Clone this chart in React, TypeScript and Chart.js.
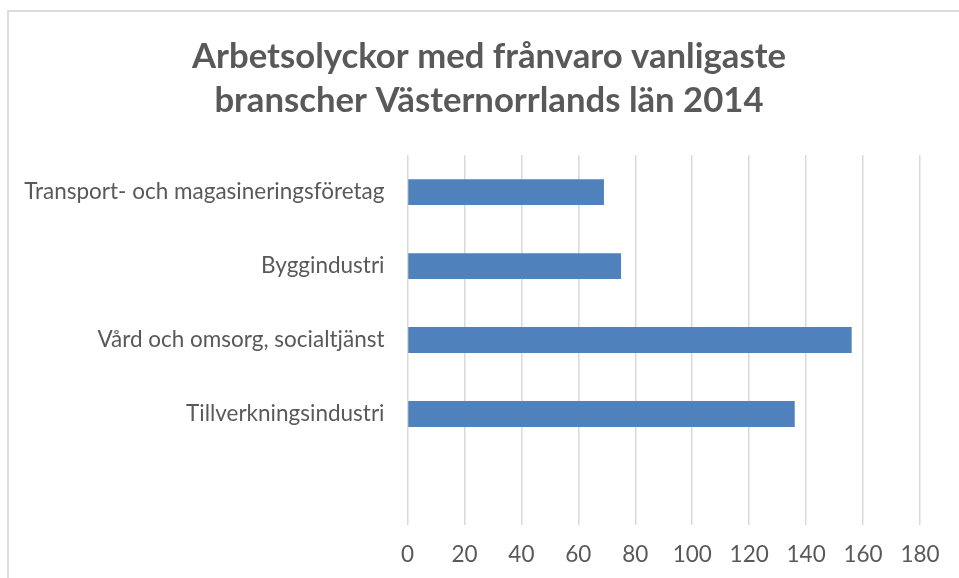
import React, { useEffect, useRef } from "react";
import { Chart, registerables } from "chart.js";

Chart.register(...registerables);

const titleLines = ["Arbetsolyckor med frånvaro vanligaste", "branscher Västernorrlands län 2014"];
const categories = [
  "Transport- och magasineringsföretag",
  "Byggindustri",
  "Vård och omsorg, socialtjänst",
  "Tillverkningsindustri",
  "",
];
const values: (number | null)[] = [69, 75, 156, 136, null];
const xMin = 0;
const xMax = 180;
const xStep = 20;

const FONT = "Lato, 'Open Sans', sans-serif";
const TEXT = "#595959";

export default function App() {
  const ref = useRef<HTMLCanvasElement | null>(null);
  useEffect(() => {
    if (!ref.current) return;
    const chart = new Chart(ref.current, {
      type: "bar",
      data: {
        labels: categories,
        datasets: [
          {
            data: values,
            backgroundColor: "#4f81bd",
            borderWidth: 0,
            categoryPercentage: 1,
            barPercentage: 0.35,
            yAxisID: "y",
          },
        ],
      },
      options: {
        indexAxis: "y",
        responsive: false,
        animation: false,
        layout: { padding: { left: 0, right: 0, top: 0, bottom: 0 } },
        plugins: {
          legend: { display: false },
          tooltip: { enabled: false },
          title: {
            display: true,
            text: titleLines,
            color: TEXT,
            font: { family: FONT, size: 34.7, weight: "bold", lineHeight: 1.27 },
            padding: { top: 35, bottom: 32 },
          },
        },
        scales: {
          x: {
            min: xMin,
            max: xMax,
            ticks: { stepSize: xStep, color: TEXT, font: { family: FONT, size: 22.5 }, padding: 16 },
            grid: { color: "#d9d9d9", lineWidth: 1.5, drawTicks: false },
            border: { display: false },
            afterFit: (s: any) => {
              s.height = 53;
            },
          },
          y: {
            ticks: { color: TEXT, font: { family: FONT, size: 22.5 }, padding: 23 },
            grid: { display: false, drawTicks: false },
            border: { display: false },
            afterFit: (s: any) => {
              s.width = 407.5;
            },
          },
          yRight: {
            position: "right",
            display: true,
            ticks: { display: false },
            grid: { display: false, drawTicks: false },
            border: { display: false },
            afterFit: (s: any) => {
              s.width = 58;
            },
          },
        },
      },
    });
    return () => chart.destroy();
  }, []);
  return (
    <div style={{ position: "fixed", left: 0, top: 0, width: 959, height: 578, background: "#fff", overflow: "hidden" }}>
      <div
        style={{
          position: "absolute",
          left: 7,
          top: 10,
          width: 980,
          height: 600,
          border: "2px solid #dcdcdc",
          boxSizing: "border-box",
        }}
      />
      <canvas ref={ref} width={978} height={578} style={{ position: "absolute", left: 0, top: 0 }} />
    </div>
  );
}
